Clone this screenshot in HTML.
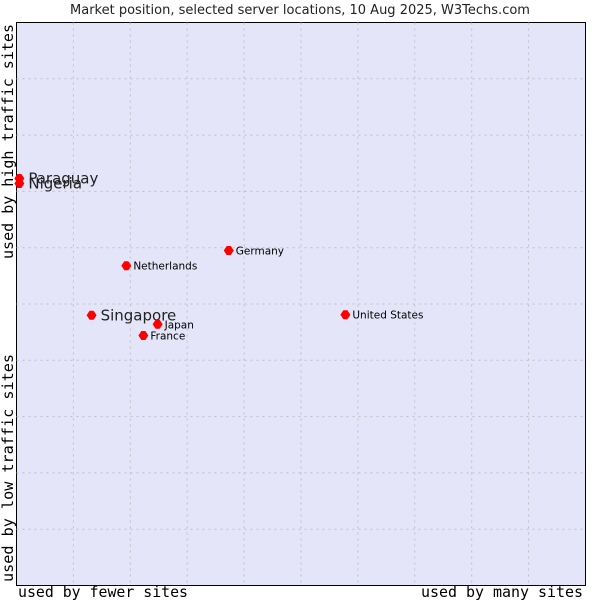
<!DOCTYPE html>
<html><head><meta charset="utf-8"><style>
body{margin:0;background:#fff;}
svg{display:block;font-family:"DejaVu Sans","Liberation Sans",sans-serif;}
</style></head><body>
<svg id="chart" width="600" height="600">
<text x="300" y="14" text-anchor="middle" font-size="13" fill="#222">Market position, selected server locations, 10 Aug 2025, W3Techs.com</text>
<rect x="16.5" y="22.5" width="569" height="563" fill="#e4e5f8" stroke="#000"/>
<g id="grid"></g>
<text x="18" y="597" textLength="170" lengthAdjust="spacingAndGlyphs" font-family="'DejaVu Sans Mono','Liberation Mono',monospace" font-size="15" fill="#000">used by fewer sites</text>
<text x="421" y="597" textLength="162" lengthAdjust="spacingAndGlyphs" font-family="'DejaVu Sans Mono','Liberation Mono',monospace" font-size="15" fill="#000">used by many sites</text>
<text transform="translate(13,582) rotate(-90)" textLength="228" lengthAdjust="spacingAndGlyphs" font-family="'DejaVu Sans Mono','Liberation Mono',monospace" font-size="15" fill="#000">used by low traffic sites</text>
<text transform="translate(13,259) rotate(-90)" textLength="235" lengthAdjust="spacingAndGlyphs" font-family="'DejaVu Sans Mono','Liberation Mono',monospace" font-size="15" fill="#000">used by high traffic sites</text>
<g id="points"></g>
</svg>
<script>
const countries=["Paraguay","Nigeria","Germany","Netherlands","Singapore","Japan","France","United States"];
const xValues=[0.5,0.5,37.3,19.3,13.2,24.8,22.3,57.8];
const yValues=[72.3,71.4,59.5,56.8,48.0,46.4,44.4,48.1];
const highlighted=[true,true,false,false,true,false,false,false];
const L=16.5,T=22.5,W=569,H=563;
const sx=v=>L+v/100*W, sy=v=>T+H-v/100*H;
const ns="http://www.w3.org/2000/svg";
const grid=document.getElementById('grid');
for(let i=1;i<10;i++){
  const lx=document.createElementNS(ns,'line');
  lx.setAttribute('x1',sx(i*10));lx.setAttribute('x2',sx(i*10));lx.setAttribute('y1',T);lx.setAttribute('y2',T+H);
  lx.setAttribute('stroke','#c0c0c0');lx.setAttribute('stroke-dasharray','2,4');
  
  
  grid.appendChild(lx);
  const ly=document.createElementNS(ns,'line');
  ly.setAttribute('y1',sy(i*10));ly.setAttribute('y2',sy(i*10));ly.setAttribute('x1',L);ly.setAttribute('x2',L+W);
  ly.setAttribute('stroke','#c0c0c0');ly.setAttribute('stroke-dasharray','2,4');
  
  
  grid.appendChild(ly);
}
const pts=document.getElementById('points');
countries.forEach((c,i)=>{
  const x=sx(xValues[i]),y=sy(yValues[i]);
  const d=document.createElementNS(ns,'path');
  d.setAttribute('d',`M${x-5},${y} L${x-2},${y-4.5} L${x+2},${y-4.5} L${x+5},${y} L${x+2},${y+4.5} L${x-2},${y+4.5} Z`);
  d.setAttribute('fill','#ff0000');
  
  
  pts.appendChild(d);
  const t=document.createElementNS(ns,'text');
  const big=highlighted[i];
  t.setAttribute('x',x+(big?9:7));t.setAttribute('y',y+(big?5:4));
  t.setAttribute('font-size',big?15:10.5);t.setAttribute('fill',big?'#222':'#000');
  t.textContent=c;
  
  
  pts.appendChild(t);
});
</script>
</body></html>
